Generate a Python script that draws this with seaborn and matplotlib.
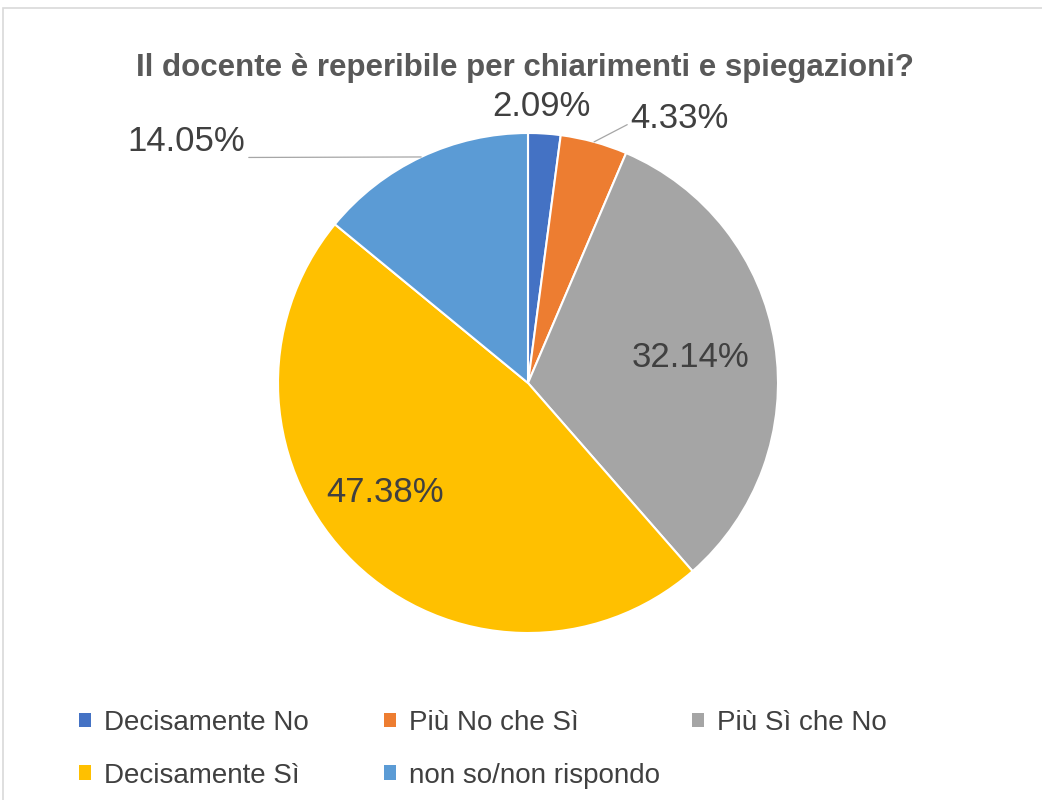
import numpy as np
import matplotlib.pyplot as plt
import seaborn as sns
from matplotlib.patches import Patch, Rectangle

# ─── Data ─────────────────────────────────────────────────────────────────────
categories = ["Decisamente No", "Più No che Sì", "Più Sì che No",
              "Decisamente Sì", "non so/non rispondo"]
values = [2.09, 4.33, 32.14, 47.38, 14.05]
colors = ["#4472C4", "#ED7D31", "#A5A5A5", "#FFC000", "#5B9BD5"]
title = "Il docente è reperibile per chiarimenti e spiegazioni?"

# ─── Style ────────────────────────────────────────────────────────────────────
TEXT = "#404040"
TITLE = "#595959"
sns.set_theme(style="white")
plt.rcParams["font.family"] = ["Liberation Sans", "DejaVu Sans"]

fig = plt.figure(figsize=(10.42, 8), dpi=100)
fig.patch.set_facecolor("white")
fig.patches.append(Rectangle((3 / 1042, -0.1), 1.2, 1.1 - 8 / 800,
                             transform=fig.transFigure, fill=False,
                             edgecolor="#D9D9D9", lw=1.2))

ax = fig.add_axes([278 / 1042, 167 / 800, 500 / 1042, 500 / 800])
pal = sns.color_palette(colors)
wedges, _ = ax.pie(values, colors=pal, startangle=90, counterclock=False,
                   radius=1.0, wedgeprops=dict(edgecolor="white", linewidth=1.5))
ax.set_xlim(-1, 1)
ax.set_ylim(-1, 1)
ax.set_aspect("equal")
ax.axis("off")

LBL = 25
for w, v in zip(wedges, values):
    mid = np.deg2rad((w.theta1 + w.theta2) / 2)
    lbl = f"{v:.2f}%"
    if v > 30:
        r = 0.66 if v < 40 else 0.72
        ang = mid if v < 40 else mid - np.deg2rad(8.5)
        ax.text(r * np.cos(ang), r * np.sin(ang), lbl, ha="center", va="center",
                fontsize=LBL, color=TEXT)
    elif v < 3:
        ax.text(1.11 * np.cos(mid) - 0.02, 1.11 * np.sin(mid), lbl,
                ha="center", va="center", fontsize=LBL, color=TEXT)
    elif v < 10:
        ax.annotate(lbl, xy=(np.cos(mid), np.sin(mid)), xytext=(0.41, 1.06),
                    ha="left", va="center", fontsize=LBL, color=TEXT,
                    arrowprops=dict(arrowstyle="-", color="#A6A6A6", lw=0.9,
                                    shrinkA=0, shrinkB=0,
                                    relpos=(0.0, 0.35)),
                    annotation_clip=False)
    else:
        ax.annotate(lbl, xy=(np.cos(mid), np.sin(mid)),
                    xytext=(-1.13, np.sin(mid) + 0.06),
                    ha="right", va="center", fontsize=LBL, color=TEXT,
                    arrowprops=dict(arrowstyle="-", color="#A6A6A6", lw=0.9,
                                    shrinkA=0, shrinkB=0, relpos=(1.0, 0.03)),
                    annotation_clip=False)

fig.text(525 / 1042, 1 - 68 / 800, title, ha="center", va="center",
         fontsize=22.5, fontweight="bold", color=TITLE)

# legend: three columns, row-major order like the original
handles = [Patch(facecolor=c, edgecolor="none") for c in pal]
cols = [[0, 3], [1, 4], [2]]
col_x = [65, 370, 678]
for idx, x in zip(cols, col_x):
    leg = fig.legend([handles[i] for i in idx], [categories[i] for i in idx],
                     loc="upper left", bbox_to_anchor=(x / 1042, 1 - 696 / 800),
                     frameon=False, fontsize=20, handlelength=0.45,
                     handleheight=0.45, handletextpad=0.45, labelspacing=0.97,
                     borderpad=0)
    for t in leg.get_texts():
        t.set_color(TEXT)

plt.savefig("out.png", dpi=100, facecolor="white")
plt.close()
